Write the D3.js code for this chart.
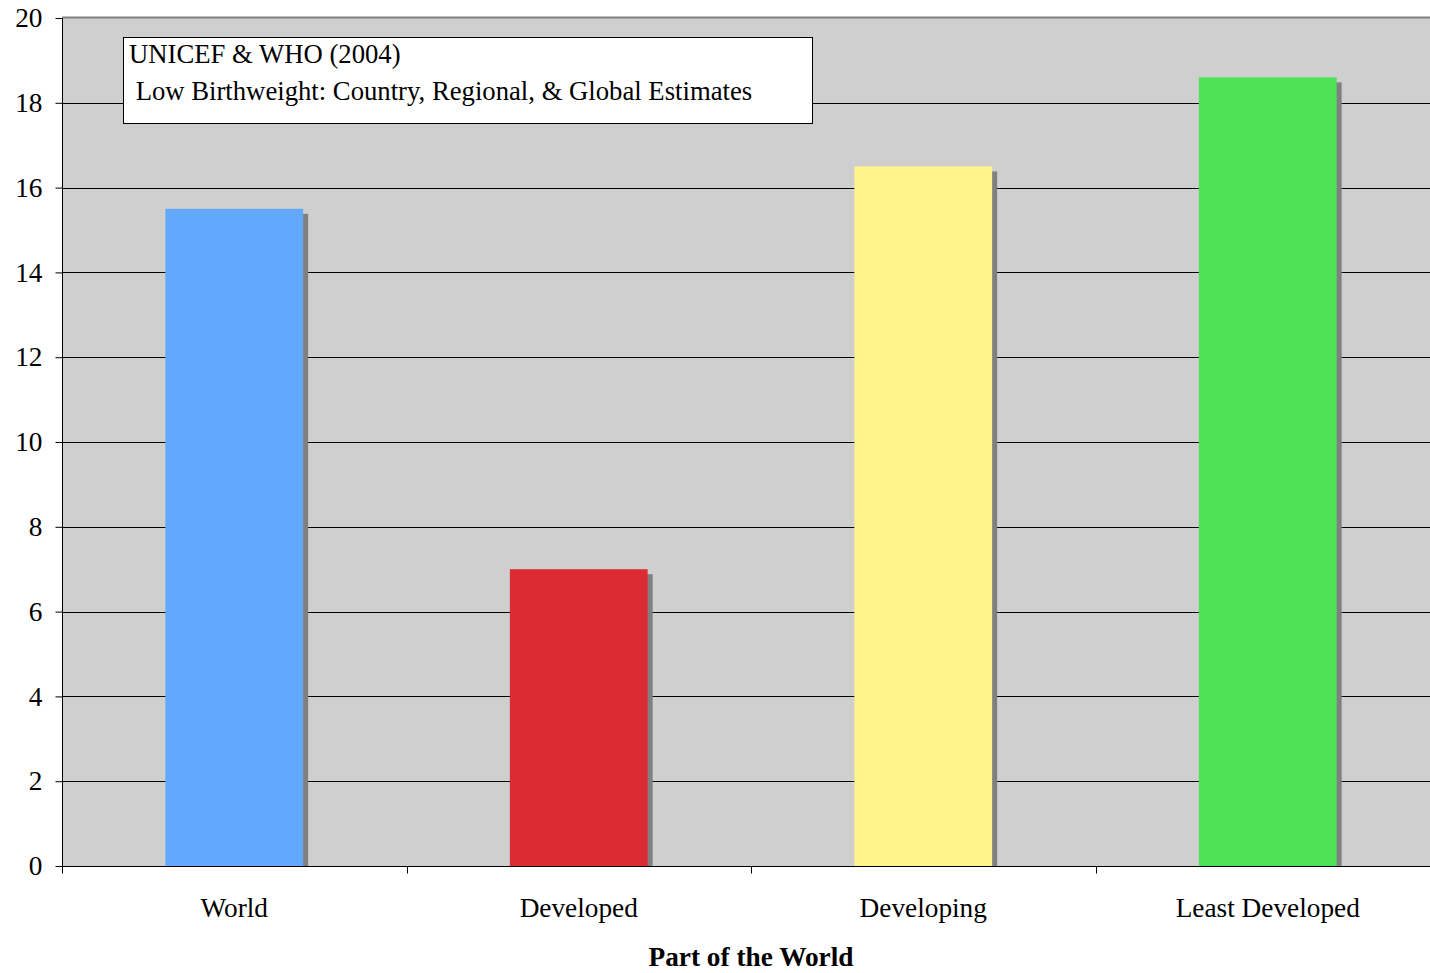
<!DOCTYPE html>
<html>
<head>
<meta charset="utf-8">
<script src="https://cdn.jsdelivr.net/npm/d3@7"></script>
<style>
  html, body { margin: 0; padding: 0; background: #ffffff; }
  svg { display: block; }
  text { font-family: "Liberation Serif", "Times New Roman", serif; fill: #000; }
</style>
</head>
<body>
<svg id="chart" width="1430" height="973"></svg>
<script>
// Low birthweight (%) by part of the world
const categories = ["World", "Developed", "Developing", "Least Developed"];
const values = [15.5, 7.0, 16.5, 18.6];
const barColors = ["#62a8ff", "#dc2c33", "#fff48c", "#4fe257"];
const yTicks = [0, 2, 4, 6, 8, 10, 12, 14, 16, 18, 20];
const noteLines = ["UNICEF & WHO (2004)", " Low Birthweight: Country, Regional, & Global Estimates"];
const xTitle = "Part of the World";

const FONT = 27.3;
const NOTE_FONT = 26.7;
const svg = d3.select("#chart");
const margin = { left: 62, top: 18, right: -10, bottom: 107 };
const W = 1430, H = 973;
const plotRight = W - margin.right;
const plotBottom = H - margin.bottom;

const x = d3.scaleBand().domain(categories).range([margin.left, plotRight]).paddingInner(0).paddingOuter(0);
const y = d3.scaleLinear().domain([0, 20]).range([plotBottom, margin.top]);

// plot background
svg.append("rect")
  .attr("x", margin.left).attr("y", margin.top)
  .attr("width", plotRight - margin.left).attr("height", plotBottom - margin.top)
  .attr("fill", "#cfcfcf");

// top border
svg.append("line")
  .attr("x1", margin.left).attr("x2", plotRight)
  .attr("y1", margin.top - 0.5).attr("y2", margin.top - 0.5)
  .attr("stroke", "#808080").attr("stroke-width", 2);

// horizontal gridlines
svg.append("g").selectAll("line")
  .data(yTicks.filter(d => d > 0 && d < 20))
  .join("line")
  .attr("x1", margin.left).attr("x2", plotRight)
  .attr("y1", d => Math.round(y(d)) + 0.5).attr("y2", d => Math.round(y(d)) + 0.5)
  .attr("stroke", "#000").attr("stroke-width", 1);

// bars with drop shadow
const barW = x.bandwidth() * 0.4;
const bars = svg.append("g");
bars.selectAll("rect.shadow")
  .data(values)
  .join("rect")
  .attr("class", "shadow")
  .attr("x", (d, i) => x(categories[i]) + (x.bandwidth() - barW) / 2 + 5)
  .attr("y", d => y(d) + 5)
  .attr("width", barW)
  .attr("height", d => plotBottom - y(d) - 5)
  .attr("fill", "#808080");
bars.selectAll("rect.bar")
  .data(values)
  .join("rect")
  .attr("class", "bar")
  .attr("x", (d, i) => x(categories[i]) + (x.bandwidth() - barW) / 2)
  .attr("y", d => y(d))
  .attr("width", barW)
  .attr("height", d => plotBottom - y(d))
  .attr("fill", (d, i) => barColors[i]);

// y axis
const yAxis = d3.axisLeft(y).tickValues(yTicks).tickSize(7).tickPadding(13).tickFormat(d3.format("d"));
const gy = svg.append("g").attr("transform", `translate(${margin.left + 0.5},0)`).call(yAxis);
gy.select(".domain").attr("stroke", "#000").attr("d", `M0,${margin.top}V${plotBottom}`);
gy.selectAll(".tick line").attr("stroke", "#000");
gy.selectAll(".tick text").style("font-size", FONT + "px").style("font-family", "Liberation Serif, serif");

// x axis with ticks at category boundaries
const gx = svg.append("g").attr("transform", `translate(0,${plotBottom + 0.5})`);
gx.append("line").attr("x1", margin.left).attr("x2", plotRight).attr("stroke", "#000");
gx.selectAll("line.tk")
  .data(categories)
  .join("line")
  .attr("class", "tk")
  .attr("x1", d => Math.round(x(d)) + 0.5).attr("x2", d => Math.round(x(d)) + 0.5)
  .attr("y1", 0).attr("y2", 7)
  .attr("stroke", "#000");
gx.selectAll("text")
  .data(categories)
  .join("text")
  .attr("x", d => x(d) + x.bandwidth() / 2)
  .attr("y", 50.5)
  .attr("text-anchor", "middle")
  .style("font-size", FONT + "px")
  .text(d => d);

// axis title
svg.append("text")
  .attr("x", margin.left + 2 * x.bandwidth())
  .attr("y", 966)
  .attr("text-anchor", "middle")
  .style("font-size", FONT + "px")
  .style("font-weight", "bold")
  .text(xTitle);

// source note box
const note = svg.append("g");
note.append("rect")
  .attr("x", 123.5).attr("y", 37.5).attr("width", 689).attr("height", 86)
  .attr("fill", "#fff").attr("stroke", "#000").attr("stroke-width", 1);
note.selectAll("text")
  .data(noteLines)
  .join("text")
  .attr("x", 129)
  .attr("y", (d, i) => 63 + i * 37)
  .attr("xml:space", "preserve")
  .style("white-space", "pre")
  .style("font-size", NOTE_FONT + "px")
  .text(d => d);
</script>
</body>
</html>
